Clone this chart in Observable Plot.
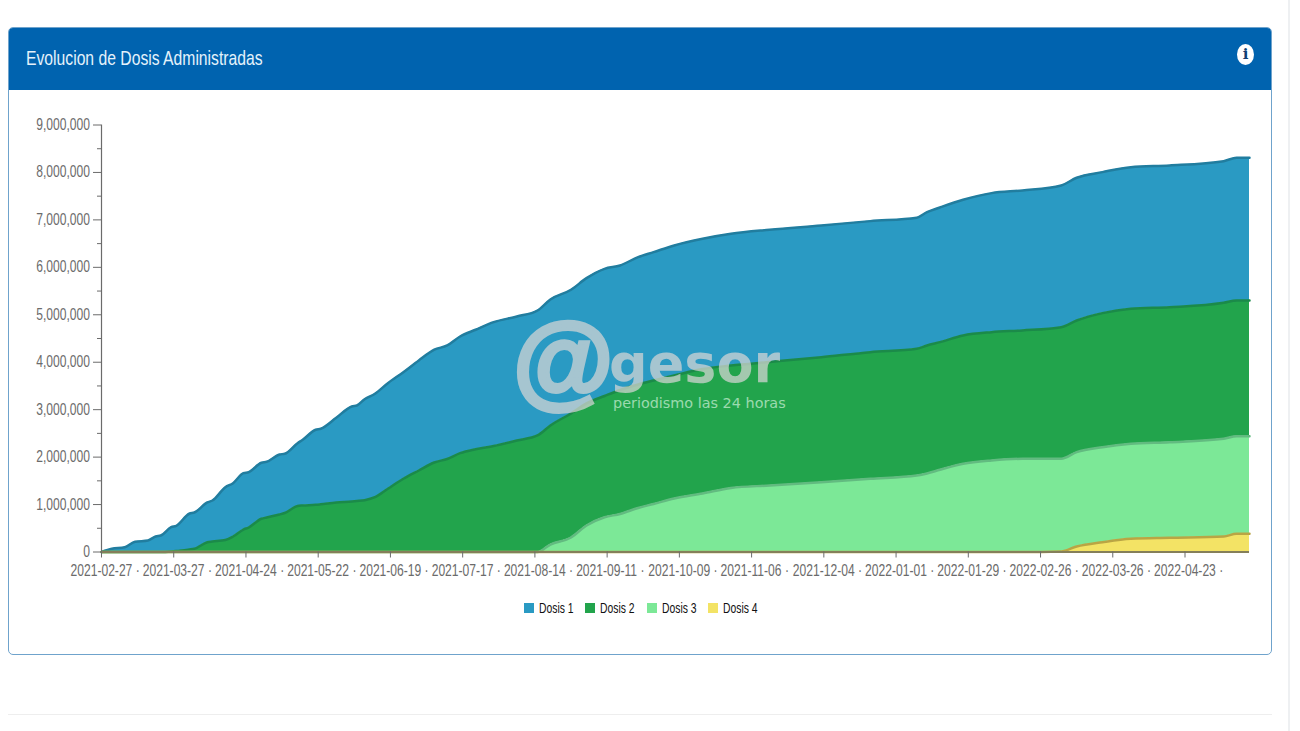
<!DOCTYPE html>
<html lang="es">
<head>
<meta charset="utf-8">
<title>Evolucion de Dosis Administradas</title>
<script src="https://cdn.jsdelivr.net/npm/d3@7"></script>
<script src="https://cdn.jsdelivr.net/npm/@observablehq/plot@0.6"></script>
<style>
  html,body{margin:0;padding:0;background:#fff;}
  body{width:1300px;height:731px;position:relative;overflow:hidden;font-family:"Liberation Sans",Arial,sans-serif;}
  #rule-r{position:absolute;left:1288px;top:0;width:2px;height:731px;background:#eef0f2;}
  #rule-b{position:absolute;left:8px;top:714px;width:1264px;height:1px;background:#eeeeee;}
  #panel{position:absolute;left:8px;top:27px;width:1262px;height:626px;border:1px solid #6fa3cc;border-radius:5px;}
  #head{position:absolute;left:0;top:0;right:0;height:62px;background:#0063af;border-radius:4px 4px 0 0;}
  #title{position:absolute;left:17px;top:16px;font-size:21px;line-height:28px;color:#e4f2fb;white-space:nowrap;transform:scaleX(.748);transform-origin:left center;}
  #info{position:absolute;left:1228px;top:16px;width:17px;height:21px;border-radius:50%;background:#fff;color:#0f3f74;font:bold 15px/21px "DejaVu Serif",serif;text-align:center;}
  #chart{position:absolute;left:0;top:0;}
  #chart svg{display:block;}
  #legend{position:absolute;left:0;top:600px;width:1300px;height:16px;font-size:14px;color:#111;}
  #legend i{position:absolute;top:3px;width:10px;height:10px;}
  #legend span{position:absolute;top:0;line-height:16px;white-space:nowrap;transform:scaleX(.74);transform-origin:left center;}
  .wm{position:absolute;white-space:nowrap;pointer-events:none;}
  #wm-at{left:513px;top:296px;font:bold 103px/130px "Liberation Sans",sans-serif;color:#d6d6d6;opacity:.72;-webkit-text-stroke:4px #d6d6d6;}
  #wm-name{left:609px;top:334px;font:bold 54px/60px "DejaVu Sans",sans-serif;color:#d6d6d6;opacity:.72;}
  #wm-sub{left:613px;top:396px;font:14.4px/14px "DejaVu Sans",sans-serif;color:#c4ecd0;opacity:.75;}
</style>
</head>
<body>
<div id="rule-r"></div>
<div id="rule-b"></div>
<div id="panel">
  <div id="head"><div id="title">Evolucion de Dosis Administradas</div><div id="info">i</div></div>
</div>
<div id="chart"></div>
<div class="wm" id="wm-at">@</div>
<div class="wm" id="wm-name">gesor</div>
<div class="wm" id="wm-sub">periodismo las 24 horas</div>
<div id="legend"></div>
<script>
// Days elapsed since the first date on the axis
const inicio = "2021-02-27";
const dias = [0,4,9,13,18,21,23,27,29,34,36,41,43,48,51,55,57,62,64,69,71,76,78,83,85,91,97,99,102,106,111,117,123,129,134,139,145,152,161,169,174,182,188,195,201,208,214,222,233,244,259,279,298,316,320,325,334,345,357,372,378,388,399,414,435,440,445];

// Values in thousands of doses
const dosis1 = [0,67,101,215,242,327,348,512,531,753,765,837,864,1113,1124,1187,1166,1181,1174,1265,1248,1324,1385,1581,1592,1786,2003,2013,2129,2180,2226,2247,2319,2376,2393,2460,2517,2610,2614,2635,2656,2608,2641,2681,2624,2684,2705,2740,2745,2776,2787,2776,2762,2762,2810,2839,2861,2930,2951,2987,3008,2972,2985,2987,2985,3008,3008];
const dosis2 = [0,0,0,0,0,0,0,11,21,53,67,207,221,253,327,474,516,700,727,791,822,970,980,995,1006,1043,1065,1075,1092,1155,1332,1543,1718,1887,1961,2083,2167,2234,2350,2456,2509,2614,2572,2555,2614,2603,2603,2593,2624,2582,2603,2635,2669,2671,2698,2690,2705,2705,2705,2774,2776,2825,2846,2846,2867,2861,2861];
const dosis3 = [0,0,0,0,0,0,0,0,0,0,0,0,0,0,0,0,0,0,0,0,0,0,0,0,0,0,0,0,0,0,0,0,0,0,0,0,0,0,0,0,158,306,559,733,801,928,1012,1128,1233,1349,1402,1471,1543,1613,1655,1733,1859,1929,1965,1954,1988,2003,2003,2015,2059,2057,2057];
const dosis4 = [0,0,0,0,0,0,0,0,0,0,0,0,0,0,0,0,0,0,0,0,0,0,0,0,0,0,0,0,0,0,0,0,0,0,0,0,0,0,0,0,0,0,0,0,0,0,0,0,0,0,0,0,0,0,0,0,0,0,0,11,116,207,278,299,327,384,384];

const etiquetasX = ["2021-02-27","2021-03-27","2021-04-24","2021-05-22","2021-06-19","2021-07-17","2021-08-14","2021-09-11","2021-10-09","2021-11-06","2021-12-04","2022-01-01","2022-01-29","2022-02-26","2022-03-26","2022-04-23"];
const ticksY = [0,1e6,2e6,3e6,4e6,5e6,6e6,7e6,8e6,9e6];
const ticksYMenores = [5e5,15e5,25e5,35e5,45e5,55e5,65e5,75e5,85e5];

const series = ["Dosis 1","Dosis 2","Dosis 3","Dosis 4"];
const valores = [dosis1,dosis2,dosis3,dosis4];
const rellenos = ["#2a9ac3","#22a44c","#7ce897","#f3e365"];
const trazos = ["#217d9f","#1b8a49","#62bb80","#b9a544"];
const ordenPila = ["Dosis 4","Dosis 3","Dosis 2","Dosis 1"];

const t0 = new Date(inicio + "T00:00:00Z");
const filas = series.flatMap((s, i) => dias.map((d, j) => ({
  serie: s,
  fecha: d3.utcDay.offset(t0, d),
  valor: valores[i][j] * 1000
})));
const fechasTick = etiquetasX.map(s => new Date(s + "T00:00:00Z"));
const fmtFecha = d3.utcFormat("%Y-%m-%d");
const gris = "#6b6b6b";
const pila = {x: "fecha", y: "valor", z: "serie", order: ordenPila, curve: "monotone-x"};

const plot = Plot.plot({
  width: 1300,
  height: 731,
  marginLeft: 101,
  marginRight: 51,
  marginTop: 124.5,
  marginBottom: 179.5,
  style: {background: "transparent", fontFamily: '"Liberation Sans",Arial,sans-serif', fontSize: "12.1px", color: gris},
  x: {type: "utc", domain: [t0, d3.utcDay.offset(t0, dias[dias.length - 1])]},
  y: {domain: [0, 9e6]},
  color: {domain: series, range: rellenos},
  marks: [
    Plot.areaY(filas, Plot.stackY({...pila, fill: "serie"})),
    Plot.lineY(filas, Plot.stackY2({...pila, stroke: d => trazos[series.indexOf(d.serie)], strokeWidth: 2.5})),
    Plot.ruleY([0], {stroke: "#857f5a", strokeWidth: 2}),
    Plot.ruleX([t0], {y1: 0, y2: 9e6, stroke: gris, strokeWidth: 1.2}),
    Plot.axisY({ticks: ticksY, tickFormat: d3.format(","), tickSize: 8, tickPadding: 3.5, label: null, stroke: gris, fill: gris, strokeOpacity: 1}),
    Plot.axisY({ticks: ticksYMenores, tickSize: 4, text: null, label: null, stroke: gris, strokeOpacity: 1}),
    Plot.axisX({ticks: fechasTick, tickSize: 6, text: null, label: null, stroke: gris, strokeOpacity: 1}),
    Plot.axisX({ticks: fechasTick, tickFormat: d => fmtFecha(d) + " ·", tickSize: 0, tickPadding: 13, label: null, fill: gris, textAnchor: "start", dx: -31})
  ]
});
document.getElementById("chart").appendChild(plot);

// The reference's tick labels are condensed: stretch them vertically
plot.querySelectorAll('g[aria-label$="tick label"] text').forEach(t => {
  t.setAttribute("transform", (t.getAttribute("transform") || "") + " scale(1,1.3)");
});

const posLeyenda = [[524,539],[585,600],[647,662],[708,723]];
const leyenda = document.getElementById("legend");
series.forEach((s, i) => {
  const c = document.createElement("i");
  c.style.left = posLeyenda[i][0] + "px";
  c.style.background = rellenos[i];
  const t = document.createElement("span");
  t.style.left = posLeyenda[i][1] + "px";
  t.textContent = s;
  leyenda.append(c, t);
});
</script>
</body>
</html>
